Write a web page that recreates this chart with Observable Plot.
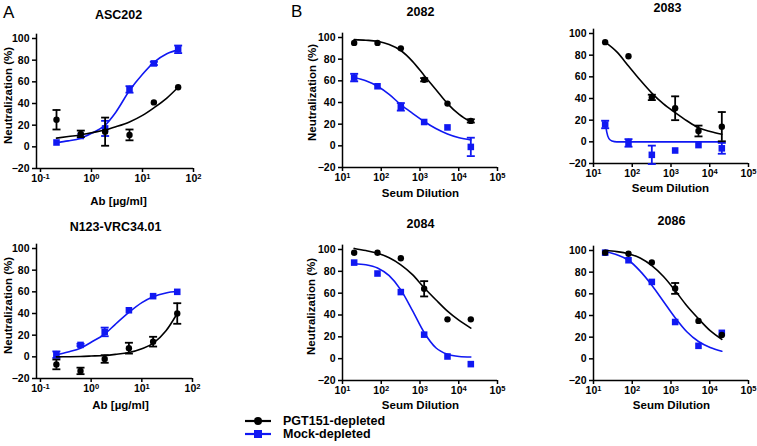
<!DOCTYPE html>
<html><head><meta charset="utf-8">
<script src="https://cdn.jsdelivr.net/npm/d3@7"></script>
<script src="https://cdn.jsdelivr.net/npm/@observablehq/plot@0.6"></script>
<style>
body{margin:0;background:#fff;}
#wrap{position:relative;width:757px;height:446px;overflow:hidden;font-family:"Liberation Sans",Arial,sans-serif;color:#000;}
.letter{position:absolute;font-size:17px;line-height:1;}
.leg{position:absolute;font-size:12.5px;font-weight:bold;line-height:1;display:flex;align-items:center;}
.leg svg{margin-right:12px;}
</style></head><body><div id="wrap"></div>
<script>
// ---------- data ----------
const abConc   = [0.206, 0.617, 1.85, 5.56, 16.7, 50];
const dilution = [20, 80, 320, 1280, 5120, 20480];
const abFitX   = [0.206, 0.35, 0.617, 1, 1.85, 3, 5.56, 10, 16.7, 30, 50];
const dilFitX  = [20, 40, 80, 160, 320, 640, 1280, 2560, 5120, 10240, 20480];
const xTicksAb  = [0.1, 1, 10, 100];
const xTicksDil = [10, 100, 1000, 10000, 100000];
const yTicks    = [-20, 0, 20, 40, 60, 80, 100];
const seriesNames = ["PGT151-depleted", "Mock-depleted"];

// ASC202
const asc202Pgt = [25, 12, 14, 11, 41, 55];
const asc202PgtErr = [9, 3, 13, 5, 0, 0];
const asc202Mock = [4, 10, 17, 53, 77, 90];
const asc202MockErr = [0, 0, 7, 3, 1.5, 3.5];
const asc202PgtFit = [8, 9.5, 11, 13, 15.5, 18.5, 23, 29, 36, 45, 55];
const asc202MockFit = [4, 5.5, 8, 12.5, 20, 32, 52, 67, 78, 86, 89.5];
// N123-VRC34.01
const n123Pgt = [-7, -13, -2, 8, 14, 40];
const n123PgtErr = [4.5, 3, 3.5, 5, 4.5, 9.5];
const n123Mock = [2, 11, 23, 43, 56, 60];
const n123MockErr = [3, 1, 4, 0, 0, 0];
const n123PgtFit = [0, 0.1, 0.3, 0.7, 1.3, 2.3, 4, 7.5, 12.5, 24, 40];
const n123MockFit = [2, 4.5, 8, 13.5, 21, 30, 41, 50, 55.5, 59, 60.5];
// 2082
const s2082Pgt = [95, 95, 90, 61, 39, 23];
const s2082PgtErr = [0, 0, 0, 1.5, 0, 1.5];
const s2082Mock = [63, 55, 36, 22, 17, -1];
const s2082MockErr = [3.5, 0, 3.5, 0, 0, 8.5];
const s2082PgtFit = [98, 97.5, 96.5, 93.5, 88, 78, 65, 52, 39, 29, 22];
const s2082MockFit = [63, 60, 55, 47.5, 38, 30, 22.5, 16, 11, 7.5, 5.5];
// 2083
const s2083Pgt = [92, 79, 41, 31, 10, 14];
const s2083PgtErr = [0, 0, 2.5, 11, 5, 13.5];
const s2083Mock = [16, -1, -12, -8, -3, -6];
const s2083MockErr = [3.5, 3.5, 8.5, 0, 0, 5];
const s2083PgtFit = [92, 83, 70, 57, 45, 35, 27, 19.5, 13, 9.5, 7];
const s2083MockFitX = [20, 22, 25, 30, 40, 160, 1280, 20480];
const s2083MockFit = [19, 9, 3, 0.8, 0, 0, 0, 0];
// 2084
const s2084Pgt = [97, 97, 92, 64, 36, 36];
const s2084PgtErr = [0, 0, 0, 7, 0, 0];
const s2084Mock = [88, 78, 61, 22, 2, -5];
const s2084MockErr = [0, 0, 0, 0, 0, 0];
const s2084PgtFit = [101, 99, 96.5, 92.5, 86, 77, 65, 54, 43.5, 35, 28];
const s2084MockFit = [87, 86, 83, 76, 63, 44, 24, 10, 4, 2, 1.5];
// 2086
const s2086Pgt = [98, 97, 89, 65, 35, 22];
const s2086PgtErr = [0, 0, 0, 5, 0, 0];
const s2086Mock = [98, 91, 71, 34, 12, 24];
const s2086MockErr = [0, 0, 0, 0, 0, 0];
const s2086PgtFit = [100, 99, 97, 93, 86, 76, 63, 49, 37, 26, 18];
const s2086MockFit = [99, 96, 91, 81, 68, 53, 38, 25, 16, 10.5, 7];

// ---------- layout ----------
const BLACK = "#000", BLUE = "#1018f2";
const panels = [
  {title:"ASC202", xs:abConc, fitX:abFitX, pgt:asc202Pgt, pgtErr:asc202PgtErr, mock:asc202Mock, mockErr:asc202MockErr, pgtFit:asc202PgtFit, mockFit:asc202MockFit,
   xDomain:[0.0835,100], xTicks:xTicksAb, left:36, right:193, yBottom:168, y100:38, xLabel:"Ab [µg/ml]", xLab:[118,201], titlePos:[118,14], yLab:[8,95]},
  {title:"N123-VRC34.01", xs:abConc, fitX:abFitX, pgt:n123Pgt, pgtErr:n123PgtErr, mock:n123Mock, mockErr:n123MockErr, pgtFit:n123PgtFit, mockFit:n123MockFit,
   xDomain:[0.0835,100], xTicks:xTicksAb, left:36, right:192, yBottom:378, y100:248, xLabel:"Ab [µg/ml]", xLab:[120,405], titlePos:[115,226], yLab:[8,305]},
  {title:"2082", xs:dilution, fitX:dilFitX, pgt:s2082Pgt, pgtErr:s2082PgtErr, mock:s2082Mock, mockErr:s2082MockErr, pgtFit:s2082PgtFit, mockFit:s2082MockFit,
   xDomain:[10,1e5], xTicks:xTicksDil, left:342, right:497, yBottom:167, y100:37, xLabel:"Seum Dilution", xLab:[420,193], titlePos:[420,11], yLab:[312,92]},
  {title:"2083", xs:dilution, fitX:dilFitX, pgt:s2083Pgt, pgtErr:s2083PgtErr, mock:s2083Mock, mockErr:s2083MockErr, pgtFit:s2083PgtFit, mockFit:s2083MockFit, mockFitX:s2083MockFitX,
   xDomain:[10,1e5], xTicks:xTicksDil, left:593, right:748, yBottom:163, y100:33, xLabel:"Seum Dilution", xLab:[670,188], titlePos:[667,7], yLab:null},
  {title:"2084", xs:dilution, fitX:dilFitX, pgt:s2084Pgt, pgtErr:s2084PgtErr, mock:s2084Mock, mockErr:s2084MockErr, pgtFit:s2084PgtFit, mockFit:s2084MockFit,
   xDomain:[10,1e5], xTicks:xTicksDil, left:342, right:497, yBottom:380, y100:249, xLabel:"Seum Dilution", xLab:[420,405], titlePos:[420,223], yLab:[311,306]},
  {title:"2086", xs:dilution, fitX:dilFitX, pgt:s2086Pgt, pgtErr:s2086PgtErr, mock:s2086Mock, mockErr:s2086MockErr, pgtFit:s2086PgtFit, mockFit:s2086MockFit,
   xDomain:[10,1e5], xTicks:xTicksDil, left:593, right:748, yBottom:380, y100:250, xLabel:"Seum Dilution", xLab:[671,405], titlePos:[671,220], yLab:null}
];

const cap = {draw(ctx, size){ const w = Math.sqrt(size/Math.PI); ctx.moveTo(-w,0); ctx.lineTo(w,0); }};
const W = 757, H = 446, Y_TOP = 104;
const wrap = document.getElementById("wrap");

function build(p){
  const k = (p.yBottom - p.y100) / 120;
  const frameTop = p.yBottom - (Y_TOP + 20) * k;
  const rows = (ys, es) => p.xs.map((x,i)=>({x, y:ys[i], lo:ys[i]-es[i], hi:ys[i]+es[i], e:es[i]}));
  const pg = rows(p.pgt, p.pgtErr), mk = rows(p.mock, p.mockErr);
  const pgFit = p.fitX.map((x,i)=>({x, y:p.pgtFit[i]}));
  const mkFit = (p.mockFitX || p.fitX).map((x,i)=>({x, y:p.mockFit[i]}));
  const errMarks = (d, color) => {
    const e = d.filter(r => r.e > 0);
    return [
      Plot.ruleX(e, {x:"x", y1:"lo", y2:"hi", stroke:color, strokeWidth:1.8}),
      Plot.dot(e, {x:"x", y:"lo", symbol:cap, r:4, stroke:color, strokeWidth:1.8}),
      Plot.dot(e, {x:"x", y:"hi", symbol:cap, r:4, stroke:color, strokeWidth:1.8})
    ];
  };
  const cx = (p.left + p.right)/2, cyMid = (frameTop + p.yBottom)/2;
  const marks = [
    Plot.ruleY([-20], {strokeWidth:1.5}),
    Plot.ruleX([p.xDomain[0]], {strokeWidth:1.5}),
    Plot.axisY({ticks:yTicks, tickSize:4, tickPadding:3, label:null, strokeWidth:1.5, fontSize:10.5}),
    Plot.axisX({ticks:p.xTicks, tickFormat:d => "10^" + Math.round(Math.log10(d)), tickSize:4, tickPadding:2, label:null, strokeWidth:1.5, fontSize:10.5}),
    ...errMarks(mk, BLUE),
    Plot.line(mkFit, {x:"x", y:"y", stroke:BLUE, strokeWidth:1.6, curve:"monotone-x"}),
    Plot.dot(mk, {x:"x", y:"y", symbol:"square", r:3.7, fill:BLUE}),
    ...errMarks(pg, BLACK),
    Plot.line(pgFit, {x:"x", y:"y", stroke:BLACK, strokeWidth:1.6, curve:"monotone-x"}),
    Plot.dot(pg, {x:"x", y:"y", r:3.2, fill:BLACK}),
    Plot.text([p.title], {frameAnchor:"top", textAnchor:"middle", dx:p.titlePos[0]-cx, dy:p.titlePos[1]-frameTop, lineAnchor:"middle", fontSize:12.5, fontWeight:"bold"}),
    Plot.text([p.xLabel], {frameAnchor:"bottom", textAnchor:"middle", dx:p.xLab[0]-cx, dy:p.xLab[1]-p.yBottom, lineAnchor:"middle", fontSize:11.5, fontWeight:"bold"})
  ];
  if (p.yLab) marks.push(Plot.text(["Neutralization (%)"], {frameAnchor:"left", textAnchor:"middle", rotate:-90, dx:p.yLab[0]-p.left, dy:p.yLab[1]-cyMid, lineAnchor:"middle", fontSize:11.5, fontWeight:"bold"}));
  const svg = Plot.plot({
    width:W, height:H,
    marginLeft:p.left, marginRight:W-p.right, marginTop:frameTop, marginBottom:H-p.yBottom,
    x:{type:"log", domain:p.xDomain},
    y:{domain:[-20, Y_TOP]},
    style:{background:"transparent", position:"absolute", left:"0px", top:"0px", overflow:"visible",
           fontFamily:"'Liberation Sans', Arial, sans-serif", fontWeight:"bold", fontSize:"10.5px", color:"#000"},
    marks
  });
  d3.select(svg).selectAll('g[aria-label="x-axis tick label"] text').each(function(){
    const s = this.textContent;
    if (!s.includes("^")) return;
    const [base, exp] = s.split("^");
    this.textContent = base;
    d3.select(this).append("tspan").attr("dy","-0.45em").attr("font-size","0.72em").text(exp);
  });
  wrap.appendChild(svg);
}
panels.forEach(build);

// panel letters
[["A",3,4],["B",291,3]].forEach(([t,x,y])=>{
  const d = document.createElement("div"); d.className="letter"; d.textContent=t;
  d.style.left=x+"px"; d.style.top=y+"px"; wrap.appendChild(d);
});
// legend
const legendColors = [BLACK, BLUE], legendSymbols = ["circle","square"], legendY = [415, 428];
seriesNames.forEach((name,i)=>{
  const d = document.createElement("div"); d.className="leg";
  d.style.left="245px"; d.style.top=legendY[i]+"px";
  const sw = d3.create("svg").attr("width",26).attr("height",12);
  sw.append("line").attr("x1",0).attr("x2",26).attr("y1",6).attr("y2",6).attr("stroke",legendColors[i]).attr("stroke-width",2.2);
  if (legendSymbols[i]==="circle") sw.append("circle").attr("cx",13).attr("cy",6).attr("r",4).attr("fill",legendColors[i]);
  else sw.append("rect").attr("x",9).attr("y",2).attr("width",8).attr("height",8).attr("fill",legendColors[i]);
  d.appendChild(sw.node());
  const t = document.createElement("span"); t.textContent = name; d.appendChild(t);
  wrap.appendChild(d);
});
</script></body></html>
